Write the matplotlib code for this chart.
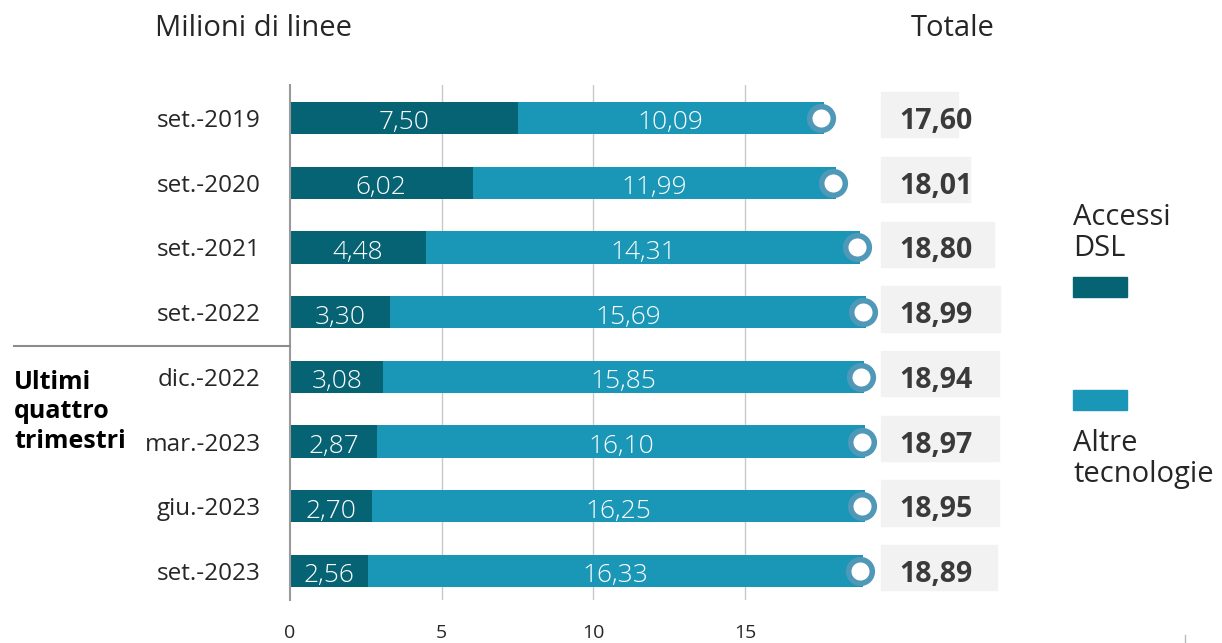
import matplotlib.pyplot as plt
from matplotlib.patches import Rectangle

periods = ["set.-2019", "set.-2020", "set.-2021", "set.-2022",
           "dic.-2022", "mar.-2023", "giu.-2023", "set.-2023"]
dsl = [7.50, 6.02, 4.48, 3.30, 3.08, 2.87, 2.70, 2.56]
altre = [10.09, 11.99, 14.31, 15.69, 15.85, 16.10, 16.25, 16.33]
totale = [17.60, 18.01, 18.80, 18.99, 18.94, 18.97, 18.95, 18.89]
ticks = [0, 5, 10, 15]

c_dsl = "#066374"
c_altre = "#1a97b6"
c_ring = "#4f98b8"
c_text = "#262626"

plt.rcParams['font.family'] = ['Open Sans', 'DejaVu Sans']

W, H = 1222, 643
fig = plt.figure(figsize=(W / 100, H / 100), dpi=100)

# pixel geometry of the plot area
ppu = (745 - 290) / 15.0          # pixels per unit on x
row = (571 - 118) / 7.0           # pixels per row
x_right = 1010
y_top, y_bot = 85, 600
xmax = (x_right - 290) / ppu
ytop_d = (y_top - 118) / row
ybot_d = (y_bot - 118) / row
ax = fig.add_axes([290 / W, 1 - y_bot / H, (x_right - 290) / W, (y_bot - y_top) / H])
ax.set_xlim(0, xmax)
ax.set_ylim(ybot_d, ytop_d)

for s in ["top", "right", "bottom"]:
    ax.spines[s].set_visible(False)
ax.spines["left"].set_color("#9a9a9a")
ax.spines["left"].set_linewidth(1.5)
for t in ticks[1:]:
    ax.axvline(t, color="#c8c8c8", lw=1, zorder=0)

ypos = list(range(len(periods)))
ax.barh(ypos, dsl, height=0.5, color=c_dsl, zorder=2)
ax.barh(ypos, altre, left=dsl, height=0.5, color=c_altre, zorder=2)
ax.plot([t - 0.1 for t in totale], ypos, "o", ms=17, mfc="white", mec=c_ring,
        mew=4.0, zorder=4, clip_on=False)

box_left = (881 - 290) / ppu
for i in ypos:
    ax.text(dsl[i] / 2, i + 0.03, f"{dsl[i]:.2f}".replace(".", ","), color="white",
            fontsize=19, fontweight="light", ha="center", va="center_baseline", zorder=3)
    ax.text(dsl[i] + altre[i] / 2, i + 0.03, f"{altre[i]:.2f}".replace(".", ","),
            color="white", fontsize=19, fontweight="light", ha="center",
            va="center_baseline", zorder=3)
    ax.add_patch(Rectangle((box_left, i - 0.40), totale[i] + 4.42 - box_left, 0.70,
                           color="#f2f2f2", clip_on=False, zorder=1))
    ax.text(box_left + 0.6, i, f"{totale[i]:.2f}".replace(".", ","), color="#3a3a3a",
            fontsize=20.5, fontweight="bold", ha="left", va="center_baseline", zorder=3)

ax.set_yticks(ypos)
ax.set_yticklabels(periods, fontsize=17.5, color=c_text)
ax.set_xticks(ticks)
ax.set_xticklabels([str(t) for t in ticks], fontsize=14, color=c_text)
ax.tick_params(axis="y", length=0, pad=21)
ax.tick_params(axis="x", length=0, pad=17)

# titles
fig.text(155 / W, 1 - 28 / H, "Milioni di linee", fontsize=21, color=c_text,
         ha="left", va="center")
fig.text(995 / W, 1 - 28 / H, "Totale", fontsize=21, color=c_text,
         ha="right", va="center")

# group marker on the left
fig.add_artist(plt.Line2D([14 / W, 290 / W], [1 - 346 / H] * 2, color="#8c8c8c", lw=1.5))
fig.text(14 / W, 1 - 412 / H, "Ultimi\nquattro\ntrimestri", fontsize=18,
         fontweight="bold", color="black", ha="left", va="center", linespacing=1.22)

# legend
fig.text(1073 / W, 1 - 233 / H, "Accessi\nDSL", fontsize=21, color=c_text,
         ha="left", va="center", linespacing=1.05)
fig.add_artist(Rectangle((1073 / W, 1 - 297 / H), 54 / W, 20 / H, color=c_dsl,
                         transform=fig.transFigure))
fig.add_artist(Rectangle((1073 / W, 1 - 410 / H), 54 / W, 20 / H, color=c_altre,
                         transform=fig.transFigure))
fig.text(1073 / W, 1 - 459 / H, "Altre\ntecnologie", fontsize=21, color=c_text,
         ha="left", va="center", linespacing=1.05)

fig.add_artist(plt.Line2D([1185 / W] * 2, [0, 8 / H], color="#bbbbbb", lw=1))

fig.savefig("out.png", dpi=100)
